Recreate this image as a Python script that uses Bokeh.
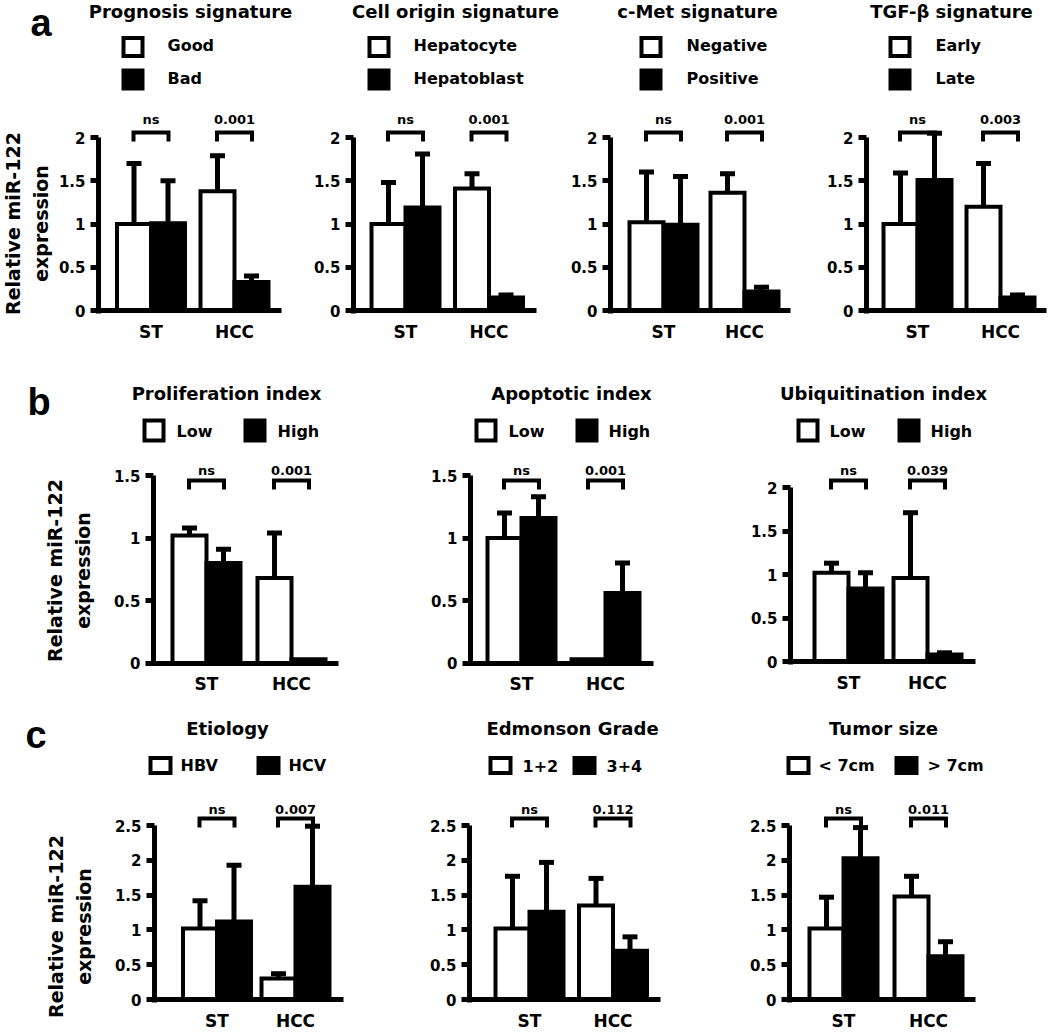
import math
from bokeh.plotting import figure
from bokeh.layouts import column, row
from bokeh.models import Range1d, FixedTicker, NumeralTickFormatter
from bokeh.core.properties import value
from bokeh.embed import file_html
from bokeh.resources import INLINE

# ---------------- data ----------------
groups = ["ST", "HCC"]
ticks_15 = [0, 0.5, 1, 1.5]
ticks_2 = [0, 0.5, 1, 1.5, 2]
ticks_25 = [0, 0.5, 1, 1.5, 2, 2.5]
y_axis_title = ["Relative miR-122", "expression"]

# a - signatures
prognosis_title = "Prognosis signature"
prognosis_legend = ["Good", "Bad"]
prognosis_good = [1.00, 1.38]
prognosis_good_sd = [0.70, 0.41]
prognosis_bad = [1.01, 0.33]
prognosis_bad_sd = [0.49, 0.07]
prognosis_p = ["ns", "0.001"]

origin_title = "Cell origin signature"
origin_legend = ["Hepatocyte", "Hepatoblast"]
origin_hepatocyte = [1.00, 1.41]
origin_hepatocyte_sd = [0.48, 0.17]
origin_hepatoblast = [1.19, 0.15]
origin_hepatoblast_sd = [0.62, 0.03]
origin_p = ["ns", "0.001"]

cmet_title = "c-Met signature"
cmet_legend = ["Negative", "Positive"]
cmet_negative = [1.02, 1.36]
cmet_negative_sd = [0.58, 0.22]
cmet_positive = [0.99, 0.22]
cmet_positive_sd = [0.56, 0.05]
cmet_p = ["ns", "0.001"]

tgfb_title = "TGF-\u03b2 signature"
tgfb_legend = ["Early", "Late"]
tgfb_early = [1.00, 1.20]
tgfb_early_sd = [0.59, 0.50]
tgfb_late = [1.51, 0.15]
tgfb_late_sd = [0.54, 0.03]
tgfb_p = ["ns", "0.003"]

# b - indices
prolif_title = "Proliferation index"
prolif_legend = ["Low", "High"]
prolif_low = [1.02, 0.68]
prolif_low_sd = [0.06, 0.36]
prolif_high = [0.80, 0.03]
prolif_high_sd = [0.11, 0.00]
prolif_p = ["ns", "0.001"]

apopt_title = "Apoptotic index"
apopt_legend = ["Low", "High"]
apopt_low = [1.00, 0.03]
apopt_low_sd = [0.20, 0.00]
apopt_high = [1.16, 0.56]
apopt_high_sd = [0.17, 0.24]
apopt_p = ["ns", "0.001"]

ubiq_title = "Ubiquitination index"
ubiq_legend = ["Low", "High"]
ubiq_low = [1.02, 0.96]
ubiq_low_sd = [0.11, 0.75]
ubiq_high = [0.84, 0.08]
ubiq_high_sd = [0.18, 0.02]
ubiq_p = ["ns", "0.039"]

# c - clinical
etio_title = "Etiology"
etio_legend = ["HBV", "HCV"]
etio_hbv = [1.02, 0.30]
etio_hbv_sd = [0.40, 0.07]
etio_hcv = [1.12, 1.62]
etio_hcv_sd = [0.81, 0.87]
etio_p = ["ns", "0.007"]

grade_title = "Edmonson Grade"
grade_legend = ["1+2", "3+4"]
grade_12 = [1.02, 1.35]
grade_12_sd = [0.75, 0.39]
grade_34 = [1.26, 0.70]
grade_34_sd = [0.71, 0.20]
grade_p = ["ns", "0.112"]

size_title = "Tumor size"
size_legend = ["< 7cm", "> 7cm"]
size_small = [1.02, 1.48]
size_small_sd = [0.45, 0.29]
size_large = [2.03, 0.62]
size_large_sd = [0.44, 0.21]
size_p = ["ns", "0.011"]

# ---------------- layout (reference pixels; text y = centre of capitals) ----------------
FONT = "DejaVu Sans"
BAR_PX = 34
CAP_PX = 7.5
BR_PX = 17.5
LEG_PX = 9

ROW_A = dict(span=(0, 360), dy=0, y0=310, yt=137, title_y=11, bracket=132, p_off=13,
             letter=("a", 30, 22), ylab=(12, 40, 223), leg_y=[46.5, 79], box=(23, 22),
             text_dy=-1.5, vertical=True)
ROW_B = dict(span=(360, 708), dy=0, y0=662.5, yt=475, title_y=393, bracket=480, p_off=10,
             letter=("b", 27, 401), ylab=(54, 82, 570), leg_y=[430], box=(23, 24),
             text_dy=1, vertical=False)
ROW_C = dict(span=(708, 1035), dy=7, y0=1006, yt=832, title_y=735, bracket=825, p_off=9,
             letter=("c", 25, 741), ylab=(55, 83, 933), leg_y=[772], box=(24, 19),
             text_dy=0, vertical=False)

PANELS_A = [
    dict(title=prognosis_title, legend=prognosis_legend, low=prognosis_good, low_sd=prognosis_good_sd,
         high=prognosis_bad, high_sd=prognosis_bad_sd, p=prognosis_p, ticks=ticks_2,
         geo=dict(cx=(0, 310), axis=98, st=150.5, hcc=234, xend=281, tcx=190, leg=[121, 167])),
    dict(title=origin_title, legend=origin_legend, low=origin_hepatocyte, low_sd=origin_hepatocyte_sd,
         high=origin_hepatoblast, high_sd=origin_hepatoblast_sd, p=origin_p, ticks=ticks_2,
         geo=dict(cx=(310, 568), axis=353, st=405, hcc=488.5, xend=536, tcx=455, leg=[367, 413])),
    dict(title=cmet_title, legend=cmet_legend, low=cmet_negative, low_sd=cmet_negative_sd,
         high=cmet_positive, high_sd=cmet_positive_sd, p=cmet_p, ticks=ticks_2,
         geo=dict(cx=(568, 805), axis=610, st=663, hcc=744, xend=790, tcx=697, leg=[639, 686])),
    dict(title=tgfb_title, legend=tgfb_legend, low=tgfb_early, low_sd=tgfb_early_sd,
         high=tgfb_late, high_sd=tgfb_late_sd, p=tgfb_p, ticks=ticks_2,
         geo=dict(cx=(805, 1050), axis=866, st=917, hcc=1000, xend=1046, tcx=951, leg=[888, 935])),
]
PANELS_B = [
    dict(title=prolif_title, legend=prolif_legend, low=prolif_low, low_sd=prolif_low_sd,
         high=prolif_high, high_sd=prolif_high_sd, p=prolif_p, ticks=ticks_15,
         geo=dict(cx=(0, 390), axis=153, st=206, hcc=291, xend=338, tcx=226, leg=[142, 176, 243, 277])),
    dict(title=apopt_title, legend=apopt_legend, low=apopt_low, low_sd=apopt_low_sd,
         high=apopt_high, high_sd=apopt_high_sd, p=apopt_p, ticks=ticks_15,
         geo=dict(cx=(390, 700), axis=470, st=521, hcc=605, xend=653, tcx=571, leg=[474, 508, 575, 608])),
    dict(title=ubiq_title, legend=ubiq_legend, low=ubiq_low, low_sd=ubiq_low_sd,
         high=ubiq_high, high_sd=ubiq_high_sd, p=ubiq_p, ticks=ticks_2,
         geo=dict(cx=(700, 1050), axis=790, st=848, hcc=927, xend=975, tcx=883, leg=[796, 829, 897, 930],
                  y0=661, yt=487)),
]
PANELS_C = [
    dict(title=etio_title, legend=etio_legend, low=etio_hbv, low_sd=etio_hbv_sd,
         high=etio_hcv, high_sd=etio_hcv_sd, p=etio_p, ticks=ticks_25,
         geo=dict(cx=(0, 390), axis=154, st=216.5, hcc=295, xend=343, tcx=227, leg=[148, 180, 256, 288])),
    dict(title=grade_title, legend=grade_legend, low=grade_12, low_sd=grade_12_sd,
         high=grade_34, high_sd=grade_34_sd, p=grade_p, ticks=ticks_25,
         geo=dict(cx=(390, 705), axis=469, st=529, hcc=612.5, xend=660, tcx=572, leg=[488, 522, 572, 606])),
    dict(title=size_title, legend=size_legend, low=size_small, low_sd=size_small_sd,
         high=size_large, high_sd=size_large_sd, p=size_p, ticks=ticks_25,
         geo=dict(cx=(705, 1050), axis=789, st=843, hcc=928, xend=975, tcx=883, leg=[786, 818, 894, 927])),
]


def txt(p, x, y, text, size, align="center", font=FONT, angle=0.0):
    p.text(x=x, y=y, text=text, text_font=value(font), text_font_style="bold",
           text_font_size=size, text_align=align, text_baseline="middle",
           text_color="black", angle=angle)


def make_panel(panel, rg, first):
    g = panel["geo"]
    y0 = g.get("y0", rg["y0"])
    yt = g.get("yt", rg["yt"])
    ymax = panel["ticks"][-1]
    st, hcc = g["st"], g["hcc"]
    sp = hcc - st

    def X(px):
        return 1 + (px - st) / sp

    def Y(py):
        return ymax * (y0 - py) / (y0 - yt)

    l, r = g["cx"]
    t, b = rg["span"]
    dy = rg["dy"]
    p = figure(width=r - l, height=b - t, title=None,
               x_range=Range1d(X(l), X(r)),
               y_range=Range1d(Y(b + dy), Y(t + dy)),
               output_backend="svg", toolbar_location=None, min_border=0,
               outline_line_color=None, background_fill_color="white", border_fill_color="white")
    p.xgrid.visible = False
    p.ygrid.visible = False

    xs = [i + 1 for i in range(len(groups))]
    bw = BAR_PX / sp
    cap = CAP_PX / sp
    series = [(panel["low"], panel["low_sd"], -bw / 2, "white"),
              (panel["high"], panel["high_sd"], bw / 2, "black")]
    for vals, sds, off, col in series:
        bx = [x + off for x in xs]
        p.vbar(x=bx, top=vals, bottom=0, width=bw, fill_color=col, line_color="black",
               line_width=4, line_join="miter")
    for vals, sds, off, col in series:
        bx = [x + off for x, s in zip(xs, sds) if s > 0]
        lo = [v for v, s in zip(vals, sds) if s > 0]
        hi = [v + s for v, s in zip(vals, sds) if s > 0]
        p.segment(x0=bx, y0=lo, x1=bx, y1=hi, line_color="black", line_width=5)
        p.segment(x0=[x - cap for x in bx], y0=hi, x1=[x + cap for x in bx], y1=hi,
                  line_color="black", line_width=5)

    # significance brackets
    bh = BR_PX / sp
    yb = Y(rg["bracket"])
    yl = Y(rg["bracket"] + LEG_PX)
    p.multi_line(xs=[[x - bh, x - bh, x + bh, x + bh] for x in xs],
                 ys=[[yl, yb, yb, yl] for _ in xs], line_color="black", line_width=4,
                 line_join="miter")
    txt(p, xs, [Y(rg["bracket"] - rg["p_off"])] * len(xs), panel["p"], "13px")

    # title
    txt(p, [X(g["tcx"])], [Y(rg["title_y"])], [panel["title"]], "18px")

    # legend
    bwid, bhei = rg["box"]
    leg = g["leg"]
    if rg["vertical"]:
        items = [(leg[0], rg["leg_y"][0], leg[1]), (leg[0], rg["leg_y"][1], leg[1])]
    else:
        items = [(leg[0], rg["leg_y"][0], leg[1]), (leg[2], rg["leg_y"][0], leg[3])]
    for (bl, cy, tl), lab, col in zip(items, panel["legend"], ["white", "black"]):
        p.rect(x=[X(bl + bwid / 2)], y=[Y(cy)], width=bwid - 4, height=bhei - 4,
               width_units="screen", height_units="screen", fill_color=col,
               line_color="black", line_width=4, line_join="miter")
        txt(p, [X(tl)], [Y(cy + rg["text_dy"])], [lab], "16px", align="left")

    if first:
        lx1, lx2, ly = rg["ylab"]
        txt(p, [X(lx1), X(lx2)], [Y(ly), Y(ly)], y_axis_title, "19px", angle=math.pi / 2)
        ch, chx, chy = rg["letter"]
        txt(p, [X(chx)], [Y(chy)], [ch], "38px", align="left", font="Liberation Sans")

    # axes
    yax = p.yaxis[0]
    yax.fixed_location = X(g["axis"])
    yax.bounds = (Y(y0 + 2.5), ymax)
    yax.ticker = FixedTicker(ticks=panel["ticks"])
    yax.formatter = NumeralTickFormatter(format="0.[0]")
    yax.axis_line_width = 5
    yax.major_tick_line_width = 5
    yax.major_tick_out = 8
    yax.major_tick_in = 0
    yax.minor_tick_out = 0
    yax.minor_tick_in = 0
    yax.major_label_standoff = 5
    yax.major_label_text_font = FONT
    yax.major_label_text_font_style = "bold"
    yax.major_label_text_font_size = "15px"
    yax.major_label_text_color = "black"

    xax = p.xaxis[0]
    xax.fixed_location = 0
    xax.bounds = (X(g["axis"] - 2.5), X(g["xend"]))
    xax.ticker = FixedTicker(ticks=xs)
    xax.major_label_overrides = {x: name for x, name in zip(xs, groups)}
    xax.axis_line_width = 5
    xax.major_tick_out = 0
    xax.major_tick_in = 0
    xax.minor_tick_out = 0
    xax.minor_tick_in = 0
    xax.major_label_standoff = 11
    xax.major_label_text_font = FONT
    xax.major_label_text_font_style = "bold"
    xax.major_label_text_font_size = "17px"
    xax.major_label_text_color = "black"
    return p


rows = []
for panels, rg in [(PANELS_A, ROW_A), (PANELS_B, ROW_B), (PANELS_C, ROW_C)]:
    figs = [make_panel(pn, rg, i == 0) for i, pn in enumerate(panels)]
    rows.append(row(*figs, spacing=0))
layout = column(*rows, spacing=0)

open("out.html", "w").write(file_html(layout, INLINE))
